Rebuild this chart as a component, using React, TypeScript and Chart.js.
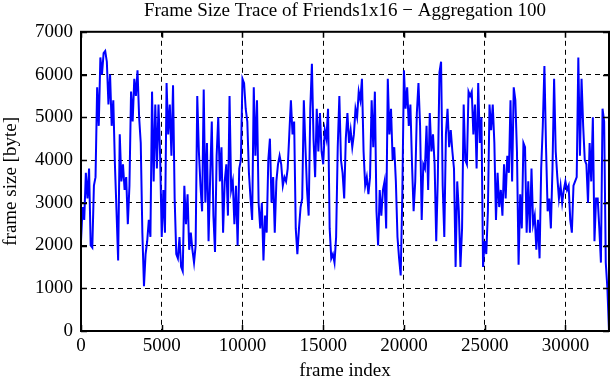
import React, { useEffect, useRef } from "react";
import { Chart, registerables } from "chart.js";

Chart.register(...registerables);

const chartTitle = "Frame Size Trace of Friends1x16 \u2212 Aggregation 100";
const xAxisTitle = "frame index";
const yAxisTitle = "frame size [byte]";
const aggregation = 100;
const xTicks = [0, 5000, 10000, 15000, 20000, 25000, 30000];
const yTicks = [0, 1000, 2000, 3000, 4000, 5000, 6000, 7000];

const frameSize = [
  2100, 2900, 2600, 3700, 3100, 3800, 2000, 1950, 3400, 3600,
  5700, 4800, 6400, 6000, 6500, 6550, 6300, 5300, 6000, 4800,
  5400, 3900, 2800, 1650, 4600, 3500, 3900, 3300, 3600, 2500,
  3400, 5600, 4900, 5900, 5500, 6100, 5000, 4400, 2300, 1050,
  1800, 2100, 2600, 2200, 5600, 3500, 5300, 3800, 5300, 4100,
  2200,
  3300, 2300, 5800, 4600, 5300, 4100, 5750, 3100, 1800, 1700,
  2200, 1500, 1400, 3400, 2500, 3200, 1900, 2300, 1900, 1600,
  2000, 5500, 4200, 3400, 2800, 5650, 3000, 4400, 2100, 3600,
  4900, 2700, 1850, 4100, 5000, 3500, 4300, 2300, 3500, 3900,
  2700, 5500, 3300, 3500, 2500, 3400, 2000, 3800, 4000, 5900,
  5800, 5200, 4900, 3700, 3100, 2600, 5700, 4100, 5400, 3000,
  2400, 3000, 1650, 2700, 2300, 4000, 4500, 3000, 3600, 2300,
  3500, 3900, 4100, 3900, 3400, 3600, 3500, 3800, 4600, 5400,
  4600, 4900, 2400, 1800, 2400, 2900, 3100, 5400, 4300, 3300,
  2700, 5200, 6250, 4500, 3600, 5200, 4200, 5100, 4200, 3900,
  4700, 4500, 5200, 2400,
  1700, 1800, 1600, 2200, 4300, 5500, 4000, 3700, 3100, 4500,
  5100, 4400, 4700, 4300, 4600, 5200, 5000, 5600, 5400, 5900,
  4200, 3400, 3600, 3200, 3600, 5400, 4300, 5600, 2800, 2000,
  3300, 2700, 3300, 3500, 2400, 5900, 4600, 5200, 4000, 4300,
  3500, 2200, 1700, 1300, 3200, 6100, 5200, 5700, 4800, 5300, 3900,
  2800, 3500, 5100, 5800, 4800, 2600, 3900, 3800, 4800, 3300,
  5100, 4200, 4600, 3900, 2100, 3600, 6050, 6300, 3400, 2200,
  4600, 5200, 4300, 4700, 4200, 3800, 1500, 3500, 2800, 1500,
  2400, 5300, 4000, 3900, 5600, 5500, 5600, 4600, 5300, 3800,
  5800, 4400, 5000, 1500, 2100, 1800, 2800, 5300, 4700,
  5300, 4400, 2600, 3700, 2900, 3300, 2700, 3900, 3100, 4100,
  3700, 5400, 3500, 5700, 5400, 4200, 1550, 3200, 2400, 4400,
  4300, 2300, 3500, 2300, 3800, 2500, 2700, 1900, 2600, 1700,
  3800, 4800, 6200, 4300, 2800, 3100, 2400, 3800, 5900, 4200,
  3600, 3100, 3400, 3000, 3300, 3500,
  3300, 3400, 2600, 2300, 3400, 3500, 3600, 6400, 4100, 5900,
  4800, 4000, 3900, 3000, 4400, 3500, 5000, 2100, 3100, 3100,
  2400, 1600, 5200, 4900, 1600, 1000, 0,
];

const frameIndex = frameSize.map((_, i) => i * aggregation);
const xMax = frameIndex[frameIndex.length - 1];

const FONT = "'Liberation Serif', 'DejaVu Serif', serif";

const framePlugin = {
  id: "frameBox",
  afterDraw(chart: any) {
    const { ctx, chartArea } = chart;
    const { left, right, top, bottom } = chartArea;
    const xs = chart.scales.x;
    const ys = chart.scales.y;
    ctx.save();
    ctx.strokeStyle = "#000";
    ctx.lineWidth = 1.5;
    ctx.setLineDash([]);
    const t = 6;
    ctx.beginPath();
    xTicks.forEach((v) => {
      const px = Math.round(xs.getPixelForValue(v)) + 0.5;
      ctx.moveTo(px, bottom);
      ctx.lineTo(px, bottom - t);
      ctx.moveTo(px, top);
      ctx.lineTo(px, top + t);
    });
    yTicks.forEach((v) => {
      const py = Math.round(ys.getPixelForValue(v)) + 0.5;
      ctx.moveTo(left, py);
      ctx.lineTo(left + t, py);
      ctx.moveTo(right, py);
      ctx.lineTo(right - t, py);
    });
    ctx.stroke();
    ctx.lineWidth = 2;
    ctx.strokeRect(left, top, right - left, bottom - top);
    ctx.restore();
  },
};

export default function App() {
  const canvasRef = useRef<HTMLCanvasElement | null>(null);

  useEffect(() => {
    document.body.style.margin = "0";
    const canvas = canvasRef.current;
    if (!canvas) return;
    const chart = new Chart(canvas, {
      type: "line",
      data: {
        datasets: [
          {
            data: frameSize.map((v, i) => ({ x: frameIndex[i], y: v })),
            borderColor: "#0000ff",
            borderWidth: 2,
            pointRadius: 0,
            tension: 0,
            fill: false,
          },
        ],
      },
      options: {
        animation: false,
        responsive: false,
        maintainAspectRatio: false,
        layout: { padding: { top: 0, right: 2, bottom: 0, left: 0 } },
        plugins: {
          legend: { display: false },
          tooltip: { enabled: false },
          title: {
            display: true,
            text: chartTitle,
            color: "#000",
            fullSize: false,
            font: { family: FONT, size: 19, weight: "normal" },
            padding: { top: 0, bottom: 9 },
          },
        },
        scales: {
          x: {
            type: "linear",
            min: 0,
            max: xMax,
            afterBuildTicks: (scale: any) => {
              scale.ticks = xTicks.map((v) => ({ value: v }));
            },
            afterFit: (scale: any) => {
              scale.height = 49;
            },
            ticks: {
              color: "#000",
              padding: 4,
              maxRotation: 0,
              autoSkip: false,
              font: { family: FONT, size: 19 },
              callback: (v: any) => String(v),
            },
            grid: {
              color: "#000",
              lineWidth: 1,
              drawTicks: false,
            },
            border: { display: true, color: "#000", width: 2, dash: [5, 4] },
            title: {
              display: true,
              text: xAxisTitle,
              color: "#000",
              font: { family: FONT, size: 19, lineHeight: 0.9 },
              padding: { top: 0, bottom: 0 },
            },
          },
          y: {
            type: "linear",
            min: 0,
            max: 7000,
            afterBuildTicks: (scale: any) => {
              scale.ticks = yTicks.map((v) => ({ value: v }));
            },
            afterFit: (scale: any) => {
              scale.width = 81;
            },
            ticks: {
              color: "#000",
              padding: 8,
              autoSkip: false,
              font: { family: FONT, size: 19 },
              callback: (v: any) => String(v),
            },
            grid: {
              color: "#000",
              lineWidth: 1,
              drawTicks: false,
            },
            border: { display: true, color: "#000", width: 2, dash: [5, 4] },
            title: {
              display: true,
              text: yAxisTitle,
              color: "#000",
              font: { family: FONT, size: 19 },
              padding: { top: 0, bottom: 0 },
            },
          },
        },
      },
      plugins: [framePlugin],
    } as any);
    return () => chart.destroy();
  }, []);

  return <canvas ref={canvasRef} width={611} height={380} style={{ display: "block" }} />;
}
